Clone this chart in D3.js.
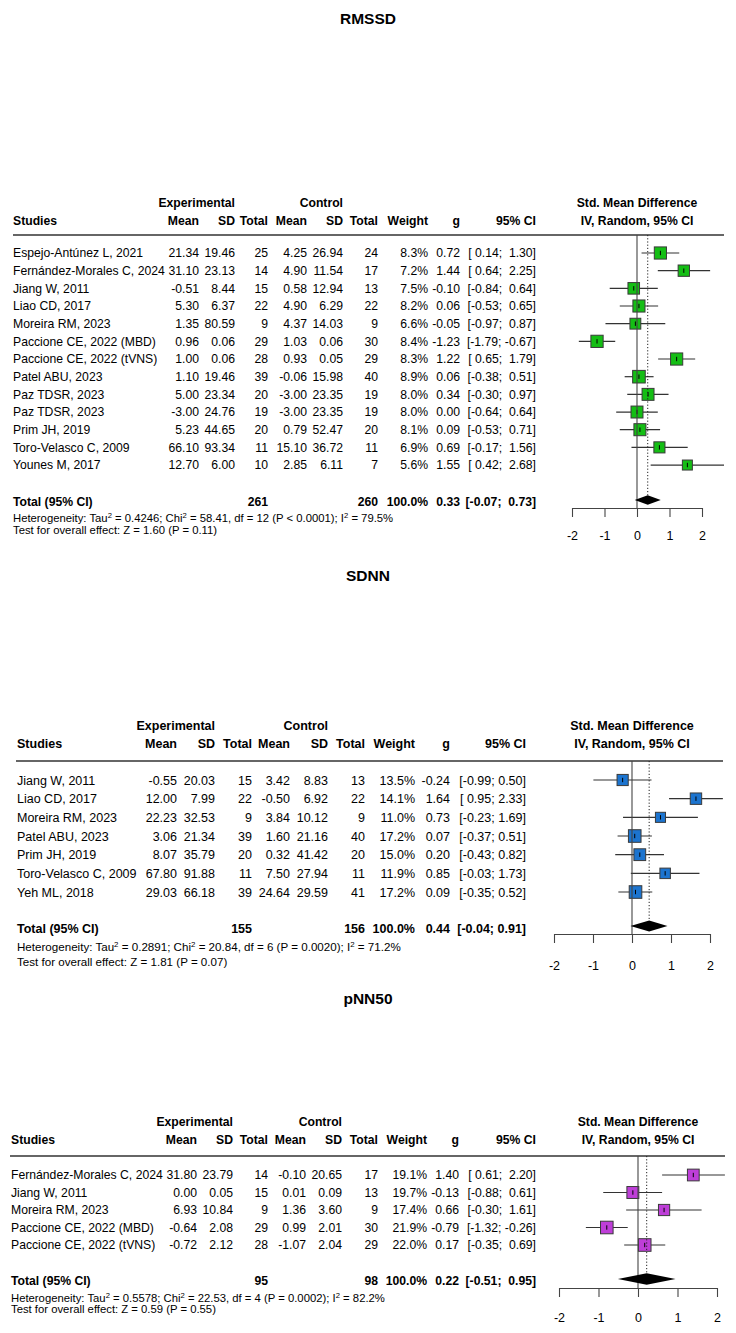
<!DOCTYPE html>
<html><head><meta charset="utf-8">
<script src="https://cdn.jsdelivr.net/npm/d3@7"></script>
<style>body{margin:0;background:#fff}svg{display:block}text{font-family:"Liberation Sans",Arial,sans-serif;fill:#000;white-space:pre}</style>
</head><body>
<script>
// ---------- DATA ----------
const ticks = [-2, -1, 0, 1, 2];
const colHeads = ["Mean", "SD", "Total", "Mean", "SD", "Total", "Weight", "g", "95% CI"];

const rmssdStudies = ["Espejo-Antúnez L, 2021","Fernández-Morales C, 2024","Jiang W, 2011","Liao CD, 2017","Moreira RM, 2023","Paccione CE, 2022 (MBD)","Paccione CE, 2022 (tVNS)","Patel ABU, 2023","Paz TDSR, 2023","Paz TDSR, 2023","Prim JH, 2019","Toro-Velasco C, 2009","Younes M, 2017"];
const rmssdExpMean = [21.34,31.10,-0.51,5.30,1.35,0.96,1.00,1.10,5.00,-3.00,5.23,66.10,12.70];
const rmssdExpSD = [19.46,23.13,8.44,6.37,80.59,0.06,0.06,19.46,23.34,24.76,44.65,93.34,6.00];
const rmssdExpN = [25,14,15,22,9,29,28,39,20,19,20,11,10];
const rmssdCtlMean = [4.25,4.90,0.58,4.90,4.37,1.03,0.93,-0.06,-3.00,-3.00,0.79,15.10,2.85];
const rmssdCtlSD = [26.94,11.54,12.94,6.29,14.03,0.06,0.05,15.98,23.35,23.35,52.47,36.72,6.11];
const rmssdCtlN = [24,17,13,22,9,30,29,40,19,19,20,11,7];
const rmssdWeight = [8.3,7.2,7.5,8.2,6.6,8.4,8.3,8.9,8.0,8.0,8.1,6.9,5.6];
const rmssdG = [0.72,1.44,-0.10,0.06,-0.05,-1.23,1.22,0.06,0.34,0.00,0.09,0.69,1.55];
const rmssdLo = [0.14,0.64,-0.84,-0.53,-0.97,-1.79,0.65,-0.38,-0.30,-0.64,-0.53,-0.17,0.42];
const rmssdHi = [1.30,2.25,0.64,0.65,0.87,-0.67,1.79,0.51,0.97,0.64,0.71,1.56,2.68];
const rmssdTotalN = [261, 260];
const rmssdTotalWeight = 100.0;
const rmssdPooled = [0.33, -0.07, 0.73];
const rmssdHet = ["0.4246", "58.41", "12", "< 0.0001", "79.5"];
const rmssdOverall = ["1.60", "0.11"];

const sdnnStudies = ["Jiang W, 2011","Liao CD, 2017","Moreira RM, 2023","Patel ABU, 2023","Prim JH, 2019","Toro-Velasco C, 2009","Yeh ML, 2018"];
const sdnnExpMean = [-0.55,12.00,22.23,3.06,8.07,67.80,29.03];
const sdnnExpSD = [20.03,7.99,32.53,21.34,35.79,91.88,66.18];
const sdnnExpN = [15,22,9,39,20,11,39];
const sdnnCtlMean = [3.42,-0.50,3.84,1.60,0.32,7.50,24.64];
const sdnnCtlSD = [8.83,6.92,10.12,21.16,41.42,27.94,29.59];
const sdnnCtlN = [13,22,9,40,20,11,41];
const sdnnWeight = [13.5,14.1,11.0,17.2,15.0,11.9,17.2];
const sdnnG = [-0.24,1.64,0.73,0.07,0.20,0.85,0.09];
const sdnnLo = [-0.99,0.95,-0.23,-0.37,-0.43,-0.03,-0.35];
const sdnnHi = [0.50,2.33,1.69,0.51,0.82,1.73,0.52];
const sdnnTotalN = [155, 156];
const sdnnTotalWeight = 100.0;
const sdnnPooled = [0.44, -0.04, 0.91];
const sdnnHet = ["0.2891", "20.84", "6", "= 0.0020", "71.2"];
const sdnnOverall = ["1.81", "0.07"];

const pnnStudies = ["Fernández-Morales C, 2024","Jiang W, 2011","Moreira RM, 2023","Paccione CE, 2022 (MBD)","Paccione CE, 2022 (tVNS)"];
const pnnExpMean = [31.80,0.00,6.93,-0.64,-0.72];
const pnnExpSD = [23.79,0.05,10.84,2.08,2.12];
const pnnExpN = [14,15,9,29,28];
const pnnCtlMean = [-0.10,0.01,1.36,0.99,-1.07];
const pnnCtlSD = [20.65,0.09,3.60,2.01,2.04];
const pnnCtlN = [17,13,9,30,29];
const pnnWeight = [19.1,19.7,17.4,21.9,22.0];
const pnnG = [1.40,-0.13,0.66,-0.79,0.17];
const pnnLo = [0.61,-0.88,-0.30,-1.32,-0.35];
const pnnHi = [2.20,0.61,1.61,-0.26,0.69];
const pnnTotalN = [95, 98];
const pnnTotalWeight = 100.0;
const pnnPooled = [0.22, -0.51, 0.95];
const pnnHet = ["0.5578", "22.53", "4", "= 0.0002", "82.2"];
const pnnOverall = ["0.59", "0.55"];

// ---------- LAYOUT ----------
const panels = [
  {title:"RMSSD", color:"#14BE14", titleY:18, h1:203, h2:221, hl:235, row0:253, step:17.67,
   totY:502, hetY:518, testY:530, axisY:508, labY:535, x0:637, unit:32.5, lineL:13, lineR:724,
   fs:12.2, ffs:11.3, dh:4.8,
   cols:[13,199,235,268,307,343,378,428,460,536],
   d:{studies:rmssdStudies, em:rmssdExpMean, esd:rmssdExpSD, en:rmssdExpN, cm:rmssdCtlMean, csd:rmssdCtlSD, cn:rmssdCtlN, w:rmssdWeight, g:rmssdG, lo:rmssdLo, hi:rmssdHi, tn:rmssdTotalN, tw:rmssdTotalWeight, pooled:rmssdPooled, het:rmssdHet, ov:rmssdOverall}},
  {title:"SDNN", color:"#1C74CF", titleY:575, h1:725, h2:743, hl:761, row0:780, step:18.67,
   totY:928, hetY:947, testY:962, axisY:934, labY:965, x0:632, unit:39, lineL:16, lineR:723,
   fs:12.5, ffs:11.6, dh:5.5,
   cols:[17,177,215,252,290,328,365,415,450,526],
   d:{studies:sdnnStudies, em:sdnnExpMean, esd:sdnnExpSD, en:sdnnExpN, cm:sdnnCtlMean, csd:sdnnCtlSD, cn:sdnnCtlN, w:sdnnWeight, g:sdnnG, lo:sdnnLo, hi:sdnnHi, tn:sdnnTotalN, tw:sdnnTotalWeight, pooled:sdnnPooled, het:sdnnHet, ov:sdnnOverall}},
  {title:"pNN50", color:"#BE3ED8", titleY:998, h1:1122, h2:1140, hl:1156, row0:1175, step:17.5,
   totY:1281, hetY:1298, testY:1309, axisY:1288, labY:1317, x0:638, unit:39.5, lineL:10, lineR:725,
   fs:12.2, ffs:11.3, dh:5.8,
   cols:[11,197,233,268,306,342,378,427,459,536],
   d:{studies:pnnStudies, em:pnnExpMean, esd:pnnExpSD, en:pnnExpN, cm:pnnCtlMean, csd:pnnCtlSD, cn:pnnCtlN, w:pnnWeight, g:pnnG, lo:pnnLo, hi:pnnHi, tn:pnnTotalN, tw:pnnTotalWeight, pooled:pnnPooled, het:pnnHet, ov:pnnOverall}}
];

const W = 736, H = 1333;
const svg = d3.select("body").append("svg").attr("width", W).attr("height", H);
svg.append("rect").attr("width", W).attr("height", H).attr("fill", "#fff");
const f2 = d3.format(".2f"), f1 = d3.format(".1f");
const fmt2 = v => f2(v).replace("−", "-");

panels.forEach((p, pi) => {
  const g = svg.append("g");
  const d = p.d;
  const c = p.cols;
  const base = (y, fs) => y + fs * 0.36;
  const txt = (x, y, s, anchor, bold, fs) => g.append("text")
    .attr("x", x).attr("y", base(y, fs || p.fs)).attr("text-anchor", anchor || "end")
    .attr("font-size", fs || p.fs).attr("font-weight", bold ? "bold" : null).text(s);

  // title
  txt(368, p.titleY, p.title, "middle", true, 15.5);

  // headers
  txt(c[2], p.h1, "Experimental", "end", true);
  txt(c[5], p.h1, "Control", "end", true);
  txt(c[0], p.h2, "Studies", "start", true);
  colHeads.forEach((h, i) => txt(c[i + 1], p.h2, h, "end", true));

  const x = d3.scaleLinear().domain([ticks[0], ticks[ticks.length - 1]])
    .range([p.x0 + ticks[0] * p.unit, p.x0 + ticks[ticks.length - 1] * p.unit]);

  txt(x(0), p.h1, "Std. Mean Difference", "middle", true);
  txt(x(0), p.h2, "IV, Random, 95% CI", "middle", true);

  g.append("line").attr("x1", p.lineL).attr("x2", p.lineR).attr("y1", p.hl).attr("y2", p.hl)
    .attr("stroke", "#666").attr("stroke-width", 1.8);

  // CI strings
  const allLo = d.lo.concat([d.pooled[1]]), allHi = d.hi.concat([d.pooled[2]]);
  const wl = d3.max(allLo, v => fmt2(v).length), wh = d3.max(allHi, v => fmt2(v).length);
  const ciStr = (lo, hi) => "[" + fmt2(lo).padStart(wl, " ") + "; " + fmt2(hi).padStart(wh, " ") + "]";

  const y = i => p.row0 + i * p.step;
  d.studies.forEach((s, i) => {
    txt(c[0], y(i), s, "start");
    txt(c[1], y(i), fmt2(d.em[i]));
    txt(c[2], y(i), fmt2(d.esd[i]));
    txt(c[3], y(i), String(d.en[i]));
    txt(c[4], y(i), fmt2(d.cm[i]));
    txt(c[5], y(i), fmt2(d.csd[i]));
    txt(c[6], y(i), String(d.cn[i]));
    txt(c[7], y(i), f1(d.w[i]) + "%");
    txt(c[8], y(i), fmt2(d.g[i]));
    txt(c[9], y(i), ciStr(d.lo[i], d.hi[i]));
  });

  // totals
  txt(c[0], p.totY, "Total (95% CI)", "start", true);
  txt(c[3], p.totY, String(d.tn[0]), "end", true);
  txt(c[6], p.totY, String(d.tn[1]), "end", true);
  txt(c[7], p.totY, f1(d.tw) + "%", "end", true);
  txt(c[8], p.totY, fmt2(d.pooled[0]), "end", true);
  txt(c[9], p.totY, ciStr(d.pooled[1], d.pooled[2]), "end", true);

  // heterogeneity
  const het = g.append("text").attr("x", c[0]).attr("y", base(p.hetY, p.ffs)).attr("font-size", p.ffs);
  const parts = [["Heterogeneity: Tau", 0], ["2", 1], [" = " + d.het[0] + "; Chi", 0], ["2", 1],
    [" = " + d.het[1] + ", df = " + d.het[2] + " (P " + d.het[3] + "); I", 0], ["2", 1], [" = " + d.het[4] + "%", 0]];
  let prevSup = false;
  parts.forEach(([s, sup]) => {
    const ts = het.append("tspan").text(s);
    if (sup) ts.attr("dy", -4.5).attr("font-size", p.ffs * 0.68);
    else if (prevSup) ts.attr("dy", 4.5);
    prevSup = !!sup;
  });
  g.append("text").attr("x", c[0]).attr("y", base(p.testY, p.ffs)).attr("font-size", p.ffs)
    .text("Test for overall effect: Z = " + d.ov[0] + " (P = " + d.ov[1] + ")");

  // plot
  const clipId = "clip" + pi;
  svg.append("clipPath").attr("id", clipId).append("rect")
    .attr("x", p.lineL + 400).attr("y", p.hl).attr("width", p.lineR - p.lineL - 400).attr("height", p.axisY - p.hl);
  const plot = g.append("g").attr("clip-path", "url(#" + clipId + ")");

  // zero line
  g.append("line").attr("x1", x(0)).attr("x2", x(0)).attr("y1", p.hl).attr("y2", p.axisY)
    .attr("stroke", "#444").attr("stroke-width", 1.1);
  // dotted pooled line
  g.append("line").attr("x1", x(d.pooled[0])).attr("x2", x(d.pooled[0])).attr("y1", p.hl).attr("y2", p.totY - 2 - p.dh)
    .attr("stroke", "#222").attr("stroke-width", 1).attr("stroke-dasharray", "1.2,2");

  const wmax = d3.max(d.w);
  const side = d3.scaleSqrt().domain([0, wmax]).range([0, 12.6]);
  d.studies.forEach((s, i) => {
    const cy = y(i);
    plot.append("line").attr("x1", x(d.lo[i])).attr("x2", x(d.hi[i])).attr("y1", cy).attr("y2", cy)
      .attr("stroke", "#333").attr("stroke-width", 1.2);
    const sd = side(d.w[i]);
    plot.append("rect").attr("x", x(d.g[i]) - sd / 2).attr("y", cy - sd / 2).attr("width", sd).attr("height", sd)
      .attr("fill", p.color).attr("stroke", "#3a3a3a").attr("stroke-width", 1);
    plot.append("line").attr("x1", x(d.g[i])).attr("x2", x(d.g[i])).attr("y1", cy - 2.2).attr("y2", cy + 2.2)
      .attr("stroke", "#000").attr("stroke-width", 1);
  });

  // diamond
  const dy = p.totY - 2;
  g.append("path").attr("d", d3.line()([[x(d.pooled[1]), dy], [x(d.pooled[0]), dy - p.dh], [x(d.pooled[2]), dy], [x(d.pooled[0]), dy + p.dh]]) + "Z")
    .attr("fill", "#000");

  // axis
  const ax = g.append("g").attr("transform", "translate(0," + p.axisY + ")")
    .call(d3.axisBottom(x).tickValues(ticks).tickSize(9).tickSizeOuter(0).tickFormat(v => String(v)));
  ax.select(".domain").attr("stroke", "#444").attr("stroke-width", 1.1);
  ax.selectAll(".tick line").attr("stroke", "#444").attr("stroke-width", 1.1);
  ax.selectAll(".tick text").attr("font-size", 12.5).attr("font-family", "Liberation Sans, Arial, sans-serif")
    .attr("fill", "#000").attr("y", p.labY - p.axisY + 4.5).attr("dy", null);
});
</script>
</body></html>
